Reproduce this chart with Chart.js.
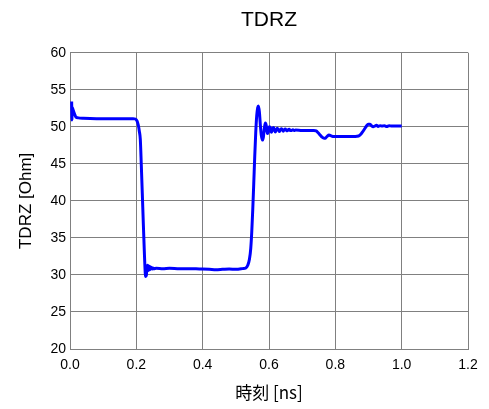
<!DOCTYPE html>
<html>
<head>
<meta charset="utf-8">
<script src="https://cdn.jsdelivr.net/npm/chart.js@4/dist/chart.umd.min.js"></script>
<style>
html,body{margin:0;padding:0;background:#fff;}
#wrap{width:489px;height:409px;position:relative;}
</style>
</head>
<body>
<div id="wrap"><canvas id="c" width="489" height="409"></canvas></div>
<script>
const chartTitle = "TDRZ";
const xTitle = "時刻 [ns]";
const yTitle = "TDRZ [Ohm]";
const xTicks = [0.0, 0.2, 0.4, 0.6, 0.8, 1.0, 1.2];
const yTicks = [20, 25, 30, 35, 40, 45, 50, 55, 60];

const times = [
 0.005,0.006,0.007,0.010,0.014,0.018,0.025,0.04,0.08,0.12,0.16,0.19,
 0.197,0.202,0.206,0.209,0.212,0.215,0.218,0.221,0.224,0.226,0.228,0.230,
 0.232,0.234,0.236,0.238,0.240,0.242,0.244,0.246,0.248,0.250,0.253,0.26,
 0.28,0.30,0.33,0.36,0.39,0.42,0.44,0.46,0.48,0.50,0.52,0.530,
 0.536,0.541,0.545,0.548,0.551,0.554,0.557,0.560,0.563,0.566,0.568,0.571,
 0.574,0.577,0.580,0.583,0.586,0.589,0.592,0.595,0.598,0.601,0.604,0.607,
 0.610,0.613,0.616,0.619,0.622,0.625,0.628,0.631,0.634,0.637,0.640,0.643,
 0.646,0.649,0.652,0.655,0.658,0.661,0.664,0.668,0.672,0.676,0.68,0.70,
 0.72,0.735,0.742,0.748,0.754,0.760,0.766,0.771,0.776,0.781,0.786,0.792,
 0.80,0.82,0.84,0.86,0.870,0.876,0.882,0.888,0.894,0.899,0.904,0.909,
 0.914,0.919,0.924,0.929,0.935,0.941,0.948,0.955,0.962,0.970,0.980,0.990,1.000
];
const tdrz = [
 53.4,50.9,52.6,52.2,51.7,51.3,51.2,51.15,51.1,51.1,51.1,51.1,
 51.05,50.8,50.2,49.4,48.3,44.8,41.0,37.0,33.3,31.0,29.8,29.9,
 30.9,31.3,30.6,31.2,30.7,31.1,30.8,31.0,30.8,30.95,30.85,30.9,
 30.85,30.9,30.85,30.85,30.8,30.75,30.7,30.75,30.8,30.75,30.85,30.95,
 31.3,32.1,33.6,35.8,38.8,42.3,46.0,49.2,51.5,52.6,52.8,52.0,
 50.2,48.8,48.2,48.6,49.8,50.5,50.1,49.1,49.3,50.0,49.9,49.25,
 49.5,49.9,49.7,49.3,49.6,49.8,49.6,49.35,49.6,49.75,49.6,49.4,
 49.6,49.7,49.55,49.45,49.6,49.65,49.5,49.5,49.6,49.5,49.55,49.5,
 49.5,49.5,49.45,49.2,48.9,48.6,48.45,48.5,48.75,48.9,48.8,48.7,
 48.7,48.7,48.7,48.7,48.75,48.95,49.3,49.7,50.1,50.35,50.35,50.15,
 50.0,50.1,50.2,50.05,50.15,50.1,50.15,50.05,50.15,50.1,50.1,50.1,50.1
];

const points = times.map((t, i) => ({x: t, y: tdrz[i]}));

const bgPlugin = {
  id: 'bg',
  beforeDraw(chart) {
    const ctx = chart.ctx;
    ctx.save();
    ctx.fillStyle = '#ffffff';
    ctx.fillRect(0, 0, chart.width, chart.height);
    ctx.restore();
  }
};

const FONT = "'Liberation Sans', Arial, sans-serif";

new Chart(document.getElementById('c'), {
  type: 'line',
  data: {
    datasets: [{
      data: points,
      borderColor: '#0000ff',
      borderWidth: 3,
      pointRadius: 0,
      fill: false,
      cubicInterpolationMode: 'monotone'
    }]
  },
  options: {
    responsive: false,
    animation: false,
    devicePixelRatio: 1,
    layout: {padding: {left: 0, right: 21, top: 0, bottom: 0}},
    plugins: {
      legend: {display: false},
      tooltip: {enabled: false},
      title: {
        display: true,
        text: chartTitle,
        fullSize: false,
        color: '#000',
        font: {family: FONT, size: 21, weight: 'normal'},
        padding: {top: 8, bottom: 19.5}
      }
    },
    scales: {
      x: {
        type: 'linear',
        min: 0, max: 1.2,
        afterBuildTicks(scale) { scale.ticks = xTicks.map(v => ({value: v})); },
        afterFit(scale) { scale.height = 60; },
        ticks: {
          color: '#000',
          font: {family: FONT, size: 14},
          padding: 8,
          maxRotation: 0,
          callback: v => Number(v).toFixed(1)
        },
        grid: {color: '#808080', lineWidth: 1, drawTicks: false},
        border: {color: '#808080', width: 1},
        title: {
          display: true, text: xTitle, color: '#000',
          font: {family: "'Noto Sans CJK JP', sans-serif", size: 17},
          padding: {top: 0, bottom: 6}
        }
      },
      y: {
        type: 'linear',
        min: 20, max: 60,
        afterBuildTicks(scale) { scale.ticks = yTicks.map(v => ({value: v})); },
        afterFit(scale) { scale.width = 70; },
        ticks: {
          color: '#000',
          font: {family: FONT, size: 14},
          padding: 4
        },
        grid: {color: '#808080', lineWidth: 1, drawTicks: false},
        border: {color: '#808080', width: 1},
        title: {
          display: true, text: yTitle, color: '#000',
          font: {family: FONT, size: 17},
          padding: {top: 16, bottom: 0}
        }
      }
    }
  },
  plugins: [bgPlugin]
});
</script>
</body>
</html>
